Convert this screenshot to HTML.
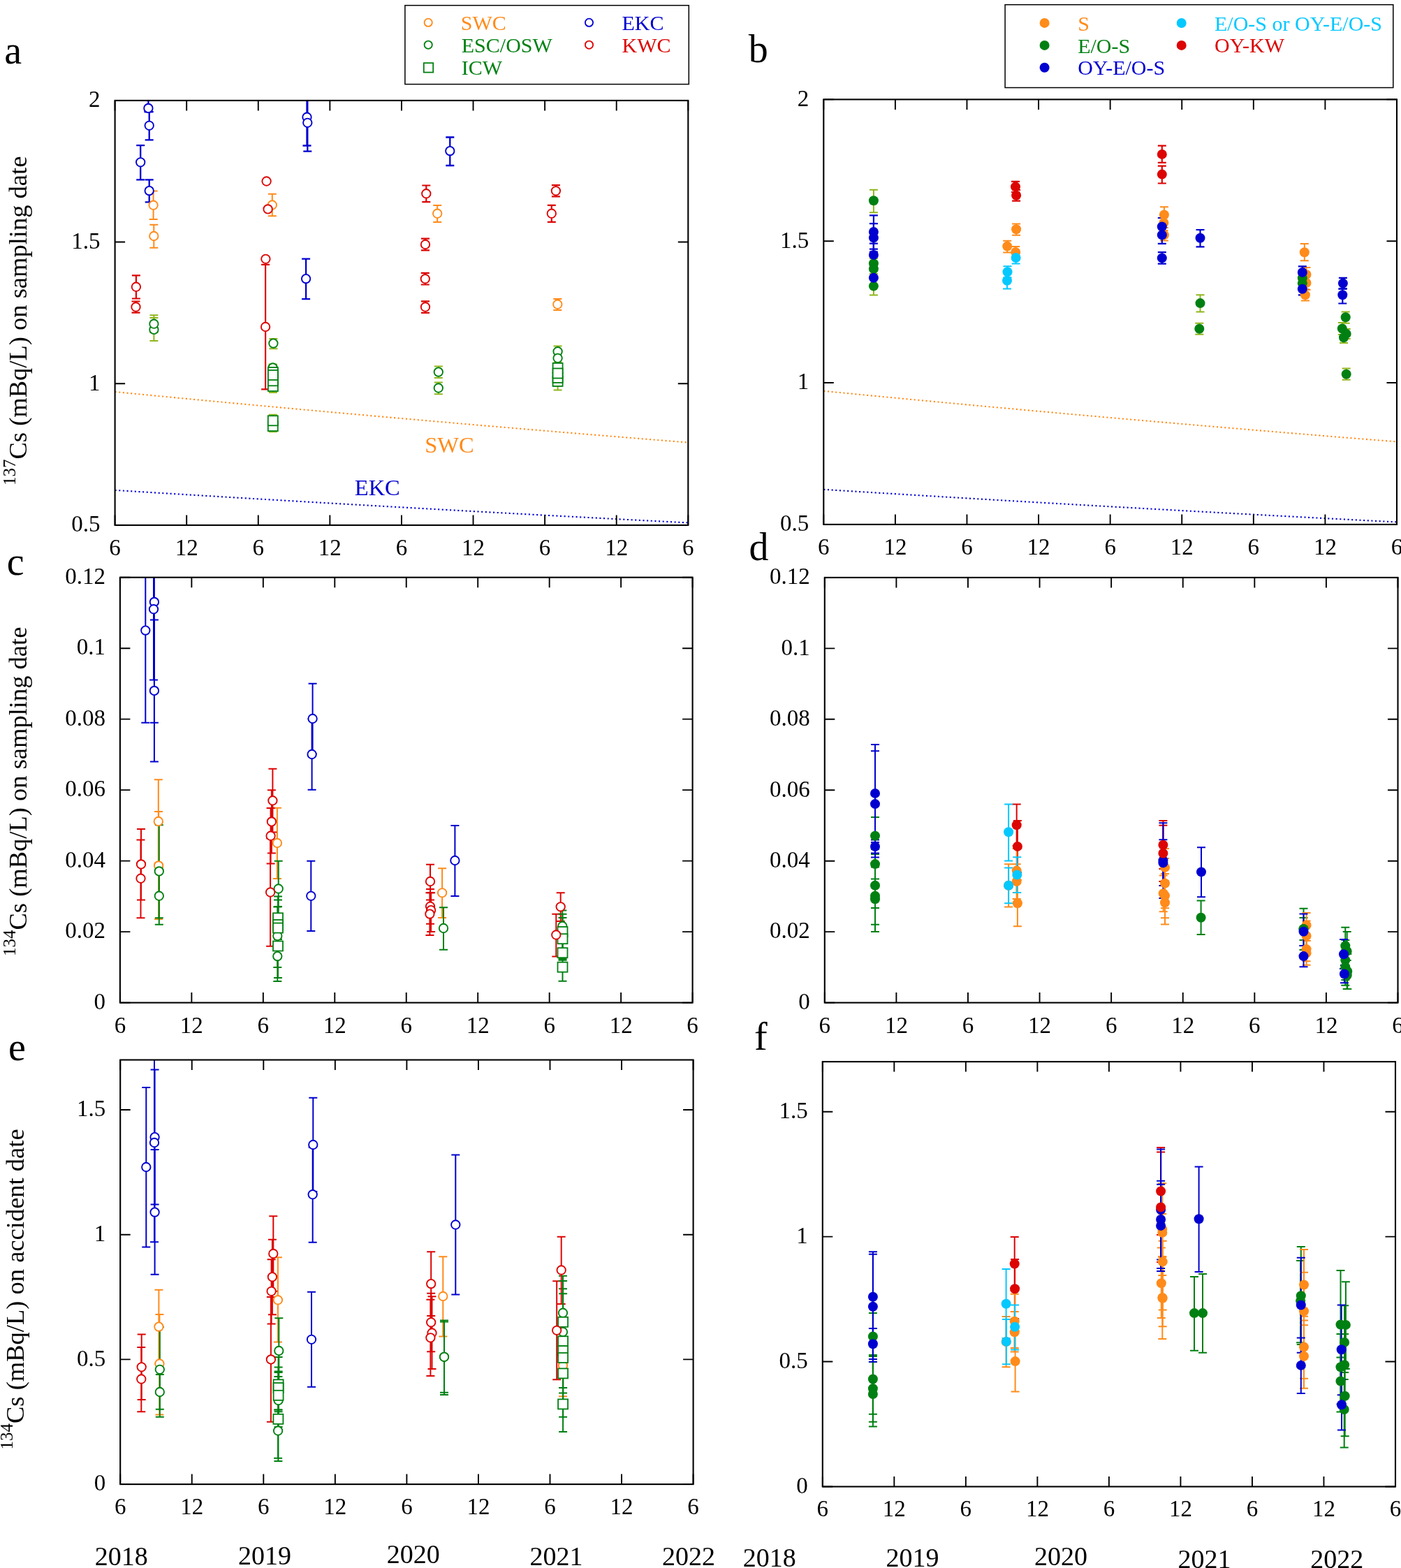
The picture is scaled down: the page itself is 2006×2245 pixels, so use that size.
<!DOCTYPE html>
<html><head><meta charset="utf-8"><title>Cs concentrations</title><style>html,body{margin:0;padding:0;background:#fff;}svg{display:block;}</style></head><body>
<svg xmlns="http://www.w3.org/2000/svg" width="2006" height="2245" viewBox="0 0 2006 2245" font-family="'Liberation Serif', 'Times New Roman', serif">
<rect width="2006" height="2245" fill="#fff"/>
<polyline points="164.6,560.99 185.12,562.99 205.63,564.98 226.15,566.96 246.67,568.93 267.19,570.89 287.7,572.84 308.22,574.78 328.74,576.71 349.26,578.63 369.77,580.54 390.29,582.44 410.81,584.33 431.33,586.21 451.84,588.08 472.36,589.94 492.88,591.79 513.4,593.64 533.91,595.47 554.43,597.3 574.95,599.11 595.47,600.92 615.99,602.71 636.5,604.5 657.02,606.28 677.54,608.05 698.05,609.81 718.57,611.56 739.09,613.31 759.61,615.04 780.12,616.77 800.64,618.48 821.16,620.19 841.68,621.89 862.19,623.58 882.71,625.26 903.23,626.93 923.75,628.6 944.26,630.26 964.78,631.9 985.3,633.54" fill="none" stroke="#ff8b1a" stroke-width="2.1" stroke-dasharray="2.1 3.55"/>
<polyline points="164.6,701.84 185.12,703.13 205.63,704.4 226.15,705.68 246.67,706.94 267.19,708.2 287.7,709.45 308.22,710.7 328.74,711.94 349.26,713.17 369.77,714.4 390.29,715.62 410.81,716.84 431.33,718.04 451.84,719.25 472.36,720.44 492.88,721.63 513.4,722.82 533.91,724 554.43,725.17 574.95,726.33 595.47,727.5 615.99,728.65 636.5,729.8 657.02,730.94 677.54,732.08 698.05,733.21 718.57,734.33 739.09,735.45 759.61,736.57 780.12,737.68 800.64,738.78 821.16,739.88 841.68,740.97 862.19,742.05 882.71,743.13 903.23,744.21 923.75,745.28 944.26,746.34 964.78,747.4 985.3,748.45" fill="none" stroke="#0000d0" stroke-width="2.1" stroke-dasharray="2.1 3.55"/>
<polyline points="1179.3,559.83 1199.82,561.83 1220.34,563.82 1240.85,565.81 1261.37,567.78 1281.89,569.74 1302.4,571.69 1322.92,573.63 1343.44,575.56 1363.96,577.48 1384.47,579.39 1404.99,581.3 1425.51,583.19 1446.03,585.07 1466.55,586.94 1487.06,588.81 1507.58,590.66 1528.1,592.51 1548.62,594.34 1569.13,596.17 1589.65,597.99 1610.17,599.79 1630.68,601.59 1651.2,603.38 1671.72,605.16 1692.24,606.93 1712.76,608.69 1733.27,610.45 1753.79,612.19 1774.31,613.93 1794.83,615.65 1815.34,617.37 1835.86,619.08 1856.38,620.78 1876.89,622.47 1897.41,624.16 1917.93,625.83 1938.45,627.5 1958.96,629.16 1979.48,630.8 2000,632.45" fill="none" stroke="#ff8b1a" stroke-width="2.1" stroke-dasharray="2.1 3.55"/>
<polyline points="1179.3,700.8 1199.82,702.09 1220.34,703.37 1240.85,704.64 1261.37,705.9 1281.89,707.16 1302.4,708.42 1322.92,709.67 1343.44,710.91 1363.96,712.14 1384.47,713.37 1404.99,714.59 1425.51,715.81 1446.03,717.02 1466.55,718.22 1487.06,719.42 1507.58,720.61 1528.1,721.79 1548.62,722.97 1569.13,724.15 1589.65,725.31 1610.17,726.48 1630.68,727.63 1651.2,728.78 1671.72,729.92 1692.24,731.06 1712.76,732.19 1733.27,733.32 1753.79,734.44 1774.31,735.56 1794.83,736.66 1815.34,737.77 1835.86,738.87 1856.38,739.96 1876.89,741.05 1897.41,742.13 1917.93,743.2 1938.45,744.27 1958.96,745.34 1979.48,746.4 2000,747.45" fill="none" stroke="#0000d0" stroke-width="2.1" stroke-dasharray="2.1 3.55"/>
<clipPath id="clipa"><rect x="164.6" y="143.9" width="820.7" height="608"/></clipPath>
<g clip-path="url(#clipa)">
<path d="M219.6 273.4V313.9M213.6 273.4H225.6M213.6 313.9H225.6" stroke="#ff8b1a" stroke-width="2.0" fill="none"/>
<path d="M220.3 321.7V354.7M214.3 321.7H226.3M214.3 354.7H226.3" stroke="#ff8b1a" stroke-width="2.0" fill="none"/>
<path d="M389.8 277.8V309.3M383.8 277.8H395.8M383.8 309.3H395.8" stroke="#ff8b1a" stroke-width="2.0" fill="none"/>
<path d="M626.2 294V318M620.2 294H632.2M620.2 318H632.2" stroke="#ff8b1a" stroke-width="2.0" fill="none"/>
<path d="M798.3 428V444M792.3 428H804.3M792.3 444H804.3" stroke="#ff8b1a" stroke-width="2.0" fill="none"/>
<path d="M220.4 454.9V488M214.4 454.9H226.4M214.4 488H226.4" stroke="#90b61c" stroke-width="2.0" fill="none"/>
<path d="M220.4 451.3V476M214.4 451.3H226.4M214.4 476H226.4" stroke="#90b61c" stroke-width="2.0" fill="none"/>
<path d="M391.4 485V499.2M385.4 485H397.4M385.4 499.2H397.4" stroke="#90b61c" stroke-width="2.0" fill="none"/>
<path d="M390.6 521.8V531M384.6 521.8H396.6M384.6 531H396.6" stroke="#90b61c" stroke-width="2.0" fill="none"/>
<path d="M627.8 524.5V540.9M621.8 524.5H633.8M621.8 540.9H633.8" stroke="#90b61c" stroke-width="2.0" fill="none"/>
<path d="M627.8 547.6V564.3M621.8 547.6H633.8M621.8 564.3H633.8" stroke="#90b61c" stroke-width="2.0" fill="none"/>
<path d="M798.6 495.4V511M792.6 495.4H804.6M792.6 511H804.6" stroke="#90b61c" stroke-width="2.0" fill="none"/>
<path d="M798.6 505V520M792.6 505H804.6M792.6 520H804.6" stroke="#90b61c" stroke-width="2.0" fill="none"/>
<path d="M212.4 120V160.2M206.4 120H218.4M206.4 160.2H218.4" stroke="#0000d0" stroke-width="2.3" fill="none"/>
<path d="M213.7 160.1V200.4M207.7 160.1H219.7M207.7 200.4H219.7" stroke="#0000d0" stroke-width="2.3" fill="none"/>
<path d="M201.2 208.1V257.4M195.2 208.1H207.2M195.2 257.4H207.2" stroke="#0000d0" stroke-width="2.3" fill="none"/>
<path d="M213.7 257.4V289.3M207.7 257.4H219.7M207.7 289.3H219.7" stroke="#0000d0" stroke-width="2.3" fill="none"/>
<path d="M438.1 370.7V428.1M432.1 370.7H444.1M432.1 428.1H444.1" stroke="#0000d0" stroke-width="2.3" fill="none"/>
<path d="M644.3 196.5V237M638.3 196.5H650.3M638.3 237H650.3" stroke="#0000d0" stroke-width="2.3" fill="none"/>
<path d="M439.5 120V208.5M433.5 120H445.5M433.5 208.5H445.5" stroke="#0000d0" stroke-width="2.3" fill="none"/>
<path d="M440.3 120V216.6M434.3 120H446.3M434.3 216.6H446.3" stroke="#0000d0" stroke-width="2.3" fill="none"/>
<path d="M194.9 394.4V427.5M188.9 394.4H200.9M188.9 427.5H200.9" stroke="#dc0504" stroke-width="2.2" fill="none"/>
<path d="M194.5 431.5V447.7M188.5 431.5H200.5M188.5 447.7H200.5" stroke="#dc0504" stroke-width="2.2" fill="none"/>
<path d="M380.1 378.8V557.4M374.1 378.8H386.1M374.1 557.4H386.1" stroke="#dc0504" stroke-width="2.2" fill="none"/>
<path d="M610.3 265.5V289.2M604.3 265.5H616.3M604.3 289.2H616.3" stroke="#dc0504" stroke-width="2.2" fill="none"/>
<path d="M609 341.6V358.3M603 341.6H615M603 358.3H615" stroke="#dc0504" stroke-width="2.2" fill="none"/>
<path d="M608.8 390.9V407.5M602.8 390.9H614.8M602.8 407.5H614.8" stroke="#dc0504" stroke-width="2.2" fill="none"/>
<path d="M609 431.4V447.9M603 431.4H615M603 447.9H615" stroke="#dc0504" stroke-width="2.2" fill="none"/>
<path d="M795.9 265.2V281.4M789.9 265.2H801.9M789.9 281.4H801.9" stroke="#dc0504" stroke-width="2.2" fill="none"/>
<path d="M789.8 293.9V317.8M783.8 293.9H795.8M783.8 317.8H795.8" stroke="#dc0504" stroke-width="2.2" fill="none"/>
<path d="M390.9 545V562.1M384.9 545H396.9M384.9 562.1H396.9" stroke="#90b61c" stroke-width="2.0" fill="none"/>
<path d="M390.9 537V553M384.9 537H396.9M384.9 553H396.9" stroke="#90b61c" stroke-width="2.0" fill="none"/>
<path d="M390.9 521.8V541M384.9 521.8H396.9M384.9 541H396.9" stroke="#90b61c" stroke-width="2.0" fill="none"/>
<path d="M390.9 529V545M384.9 529H396.9M384.9 545H396.9" stroke="#90b61c" stroke-width="2.0" fill="none"/>
<path d="M390.8 602V618.3M384.8 602H396.8M384.8 618.3H396.8" stroke="#90b61c" stroke-width="2.0" fill="none"/>
<path d="M390.8 593.7V610M384.8 593.7H396.8M384.8 610H396.8" stroke="#90b61c" stroke-width="2.0" fill="none"/>
<path d="M798.6 538V558.6M792.6 538H804.6M792.6 558.6H804.6" stroke="#90b61c" stroke-width="2.0" fill="none"/>
<path d="M798.6 533V549M792.6 533H804.6M792.6 549H804.6" stroke="#90b61c" stroke-width="2.0" fill="none"/>
<path d="M798.6 519V535M792.6 519H804.6M792.6 535H804.6" stroke="#90b61c" stroke-width="2.0" fill="none"/>
<path d="M798.6 526V543M792.6 526H804.6M792.6 543H804.6" stroke="#90b61c" stroke-width="2.0" fill="none"/>
<circle cx="219.6" cy="293.7" r="6.2" fill="#fff" stroke="#ff8b1a" stroke-width="1.9"/>
<circle cx="220.3" cy="338" r="6.2" fill="#fff" stroke="#ff8b1a" stroke-width="1.9"/>
<circle cx="389.8" cy="293.5" r="6.2" fill="#fff" stroke="#ff8b1a" stroke-width="1.9"/>
<circle cx="626.2" cy="305.7" r="6.2" fill="#fff" stroke="#ff8b1a" stroke-width="1.9"/>
<circle cx="798.3" cy="435.7" r="6.2" fill="#fff" stroke="#ff8b1a" stroke-width="1.9"/>
<circle cx="220.4" cy="471.9" r="6.2" fill="#fff" stroke="#008012" stroke-width="1.9"/>
<circle cx="220.4" cy="463.7" r="6.2" fill="#fff" stroke="#008012" stroke-width="1.9"/>
<circle cx="391.4" cy="491.6" r="6.2" fill="#fff" stroke="#008012" stroke-width="1.9"/>
<circle cx="390.6" cy="526.4" r="6.2" fill="#fff" stroke="#008012" stroke-width="1.9"/>
<circle cx="627.8" cy="532.6" r="6.2" fill="#fff" stroke="#008012" stroke-width="1.9"/>
<circle cx="627.8" cy="555.5" r="6.2" fill="#fff" stroke="#008012" stroke-width="1.9"/>
<circle cx="798.6" cy="503.2" r="6.2" fill="#fff" stroke="#008012" stroke-width="1.9"/>
<circle cx="798.6" cy="512.8" r="6.2" fill="#fff" stroke="#008012" stroke-width="1.9"/>
<circle cx="212.4" cy="154.9" r="6.2" fill="#fff" stroke="#0000d0" stroke-width="1.9"/>
<circle cx="213.7" cy="179.8" r="6.2" fill="#fff" stroke="#0000d0" stroke-width="1.9"/>
<circle cx="201.2" cy="232.3" r="6.2" fill="#fff" stroke="#0000d0" stroke-width="1.9"/>
<circle cx="213.7" cy="273.1" r="6.2" fill="#fff" stroke="#0000d0" stroke-width="1.9"/>
<circle cx="438.1" cy="399.1" r="6.2" fill="#fff" stroke="#0000d0" stroke-width="1.9"/>
<circle cx="644.3" cy="216.1" r="6.2" fill="#fff" stroke="#0000d0" stroke-width="1.9"/>
<circle cx="439.5" cy="167.7" r="6.2" fill="#fff" stroke="#0000d0" stroke-width="1.9"/>
<circle cx="440.3" cy="175.8" r="6.2" fill="#fff" stroke="#0000d0" stroke-width="1.9"/>
<rect x="383.9" y="546" width="14.0" height="14.0" fill="#fff" stroke="#008012" stroke-width="1.8"/>
<rect x="383.9" y="538.3" width="14.0" height="14.0" fill="#fff" stroke="#008012" stroke-width="1.8"/>
<rect x="383.9" y="526.1" width="14.0" height="14.0" fill="#fff" stroke="#008012" stroke-width="1.8"/>
<rect x="383.9" y="530" width="14.0" height="14.0" fill="#fff" stroke="#008012" stroke-width="1.8"/>
<rect x="383.8" y="603.1" width="14.0" height="14.0" fill="#fff" stroke="#008012" stroke-width="1.8"/>
<rect x="383.8" y="595.3" width="14.0" height="14.0" fill="#fff" stroke="#008012" stroke-width="1.8"/>
<rect x="791.6" y="539" width="14.0" height="14.0" fill="#fff" stroke="#008012" stroke-width="1.8"/>
<rect x="791.6" y="533.9" width="14.0" height="14.0" fill="#fff" stroke="#008012" stroke-width="1.8"/>
<rect x="791.6" y="519.9" width="14.0" height="14.0" fill="#fff" stroke="#008012" stroke-width="1.8"/>
<rect x="791.6" y="527.5" width="14.0" height="14.0" fill="#fff" stroke="#008012" stroke-width="1.8"/>
<circle cx="194.9" cy="410.7" r="6.2" fill="#fff" stroke="#dc0504" stroke-width="1.9"/>
<circle cx="194.5" cy="439.5" r="6.2" fill="#fff" stroke="#dc0504" stroke-width="1.9"/>
<circle cx="381.6" cy="259.5" r="6.2" fill="#fff" stroke="#dc0504" stroke-width="1.9"/>
<circle cx="383.6" cy="299.4" r="6.2" fill="#fff" stroke="#dc0504" stroke-width="1.9"/>
<circle cx="380.4" cy="370.8" r="6.2" fill="#fff" stroke="#dc0504" stroke-width="1.9"/>
<circle cx="380.1" cy="468" r="6.2" fill="#fff" stroke="#dc0504" stroke-width="1.9"/>
<circle cx="610.3" cy="277.2" r="6.2" fill="#fff" stroke="#dc0504" stroke-width="1.9"/>
<circle cx="609" cy="350" r="6.2" fill="#fff" stroke="#dc0504" stroke-width="1.9"/>
<circle cx="608.8" cy="399.2" r="6.2" fill="#fff" stroke="#dc0504" stroke-width="1.9"/>
<circle cx="609" cy="439.5" r="6.2" fill="#fff" stroke="#dc0504" stroke-width="1.9"/>
<circle cx="795.9" cy="273.3" r="6.2" fill="#fff" stroke="#dc0504" stroke-width="1.9"/>
<circle cx="789.8" cy="305.7" r="6.2" fill="#fff" stroke="#dc0504" stroke-width="1.9"/>
</g>
<clipPath id="clipb"><rect x="1179.3" y="142.4" width="820.7" height="608.5"/></clipPath>
<g clip-path="url(#clipb)">
<path d="M1250.9 271.8V304.2M1244.9 271.8H1256.9M1244.9 304.2H1256.9" stroke="#90b61c" stroke-width="2.0" fill="none"/>
<path d="M1250.9 362V392M1244.9 362H1256.9M1244.9 392H1256.9" stroke="#90b61c" stroke-width="2.0" fill="none"/>
<path d="M1250.9 370V400M1244.9 370H1256.9M1244.9 400H1256.9" stroke="#90b61c" stroke-width="2.0" fill="none"/>
<path d="M1250.9 397V422.4M1244.9 397H1256.9M1244.9 422.4H1256.9" stroke="#90b61c" stroke-width="2.0" fill="none"/>
<path d="M1718.5 422.3V446.4M1712.5 422.3H1724.5M1712.5 446.4H1724.5" stroke="#90b61c" stroke-width="2.0" fill="none"/>
<path d="M1717.3 462.8V478.8M1711.3 462.8H1723.3M1711.3 478.8H1723.3" stroke="#90b61c" stroke-width="2.0" fill="none"/>
<path d="M1864.8 388V408M1858.8 388H1870.8M1858.8 408H1870.8" stroke="#90b61c" stroke-width="2.0" fill="none"/>
<path d="M1864.8 396V415M1858.8 396H1870.8M1858.8 415H1870.8" stroke="#90b61c" stroke-width="2.0" fill="none"/>
<path d="M1926.7 446.4V462.8M1920.7 446.4H1932.7M1920.7 462.8H1932.7" stroke="#90b61c" stroke-width="2.0" fill="none"/>
<path d="M1921.8 462V479M1915.8 462H1927.8M1915.8 479H1927.8" stroke="#90b61c" stroke-width="2.0" fill="none"/>
<path d="M1927.7 470.9V485M1921.7 470.9H1933.7M1921.7 485H1933.7" stroke="#90b61c" stroke-width="2.0" fill="none"/>
<path d="M1924 476V490.9M1918 476H1930M1918 490.9H1930" stroke="#90b61c" stroke-width="2.0" fill="none"/>
<path d="M1927.7 527.6V543.8M1921.7 527.6H1933.7M1921.7 543.8H1933.7" stroke="#90b61c" stroke-width="2.0" fill="none"/>
<path d="M1454 259.9V275M1448 259.9H1460M1448 275H1460" stroke="#dc0504" stroke-width="2.2" fill="none"/>
<path d="M1455.1 272V287.7M1449.1 272H1461.1M1449.1 287.7H1461.1" stroke="#dc0504" stroke-width="2.2" fill="none"/>
<path d="M1663.8 208.6V232.8M1657.8 208.6H1669.8M1657.8 232.8H1669.8" stroke="#dc0504" stroke-width="2.2" fill="none"/>
<path d="M1663.8 237.6V262.5M1657.8 237.6H1669.8M1657.8 262.5H1669.8" stroke="#dc0504" stroke-width="2.2" fill="none"/>
<path d="M1455.1 320.4V336.7M1449.1 320.4H1461.1M1449.1 336.7H1461.1" stroke="#ff8b1a" stroke-width="2.0" fill="none"/>
<path d="M1442.2 344.7V361.5M1436.2 344.7H1448.2M1436.2 361.5H1448.2" stroke="#ff8b1a" stroke-width="2.0" fill="none"/>
<path d="M1454.2 353.1V369M1448.2 353.1H1460.2M1448.2 369H1460.2" stroke="#ff8b1a" stroke-width="2.0" fill="none"/>
<path d="M1666.9 296.2V318M1660.9 296.2H1672.9M1660.9 318H1672.9" stroke="#ff8b1a" stroke-width="2.0" fill="none"/>
<path d="M1666.4 308V330M1660.4 308H1672.4M1660.4 330H1672.4" stroke="#ff8b1a" stroke-width="2.0" fill="none"/>
<path d="M1666.9 326V344.6M1660.9 326H1672.9M1660.9 344.6H1672.9" stroke="#ff8b1a" stroke-width="2.0" fill="none"/>
<path d="M1867.8 348.9V373.2M1861.8 348.9H1873.8M1861.8 373.2H1873.8" stroke="#ff8b1a" stroke-width="2.0" fill="none"/>
<path d="M1870.5 383V403M1864.5 383H1876.5M1864.5 403H1876.5" stroke="#ff8b1a" stroke-width="2.0" fill="none"/>
<path d="M1870.5 395V415M1864.5 395H1876.5M1864.5 415H1876.5" stroke="#ff8b1a" stroke-width="2.0" fill="none"/>
<path d="M1868.9 414V430.4M1862.9 414H1874.9M1862.9 430.4H1874.9" stroke="#ff8b1a" stroke-width="2.0" fill="none"/>
<path d="M1454.6 360.6V377.4M1448.6 360.6H1460.6M1448.6 377.4H1460.6" stroke="#05c8ff" stroke-width="2.0" fill="none"/>
<path d="M1442.5 381.3V397.3M1436.5 381.3H1448.5M1436.5 397.3H1448.5" stroke="#05c8ff" stroke-width="2.0" fill="none"/>
<path d="M1442 389.8V413.6M1436 389.8H1448M1436 413.6H1448" stroke="#05c8ff" stroke-width="2.0" fill="none"/>
<path d="M1250.9 308.4V356.6M1244.9 308.4H1256.9M1244.9 356.6H1256.9" stroke="#0000d0" stroke-width="2.2" fill="none"/>
<path d="M1250.9 320.2V360.6M1244.9 320.2H1256.9M1244.9 360.6H1256.9" stroke="#0000d0" stroke-width="2.2" fill="none"/>
<path d="M1250.9 348.7V381.1M1244.9 348.7H1256.9M1244.9 381.1H1256.9" stroke="#0000d0" stroke-width="2.2" fill="none"/>
<path d="M1250.9 385V410.6M1244.9 385H1256.9M1244.9 410.6H1256.9" stroke="#0000d0" stroke-width="2.2" fill="none"/>
<path d="M1663.8 312V337M1657.8 312H1669.8M1657.8 337H1669.8" stroke="#0000d0" stroke-width="2.2" fill="none"/>
<path d="M1663.8 324V348.8M1657.8 324H1669.8M1657.8 348.8H1669.8" stroke="#0000d0" stroke-width="2.2" fill="none"/>
<path d="M1663.8 361.1V377.6M1657.8 361.1H1669.8M1657.8 377.6H1669.8" stroke="#0000d0" stroke-width="2.2" fill="none"/>
<path d="M1718.5 329V353.4M1712.5 329H1724.5M1712.5 353.4H1724.5" stroke="#0000d0" stroke-width="2.2" fill="none"/>
<path d="M1864.8 381.3V398.5M1858.8 381.3H1870.8M1858.8 398.5H1870.8" stroke="#0000d0" stroke-width="2.2" fill="none"/>
<path d="M1864.8 405V422.3M1858.8 405H1870.8M1858.8 422.3H1870.8" stroke="#0000d0" stroke-width="2.2" fill="none"/>
<path d="M1922.9 397.8V413.4M1916.9 397.8H1928.9M1916.9 413.4H1928.9" stroke="#0000d0" stroke-width="2.2" fill="none"/>
<path d="M1922.3 413.7V434.5M1916.3 413.7H1928.3M1916.3 434.5H1928.3" stroke="#0000d0" stroke-width="2.2" fill="none"/>
<circle cx="1455.1" cy="328.3" r="7.0" fill="#ff8b1a"/>
<circle cx="1442.2" cy="352.6" r="7.0" fill="#ff8b1a"/>
<circle cx="1454.2" cy="361" r="7.0" fill="#ff8b1a"/>
<circle cx="1666.9" cy="307.5" r="7.0" fill="#ff8b1a"/>
<circle cx="1666.4" cy="318.9" r="7.0" fill="#ff8b1a"/>
<circle cx="1666.9" cy="336.4" r="7.0" fill="#ff8b1a"/>
<circle cx="1867.8" cy="361.3" r="7.0" fill="#ff8b1a"/>
<circle cx="1870.5" cy="393" r="7.0" fill="#ff8b1a"/>
<circle cx="1870.5" cy="405" r="7.0" fill="#ff8b1a"/>
<circle cx="1868.9" cy="422.3" r="7.0" fill="#ff8b1a"/>
<circle cx="1250.9" cy="287.3" r="7.0" fill="#008012"/>
<circle cx="1250.9" cy="377.2" r="7.0" fill="#008012"/>
<circle cx="1250.9" cy="385.1" r="7.0" fill="#008012"/>
<circle cx="1250.9" cy="409.6" r="7.0" fill="#008012"/>
<circle cx="1718.5" cy="434.1" r="7.0" fill="#008012"/>
<circle cx="1717.3" cy="470.7" r="7.0" fill="#008012"/>
<circle cx="1864.8" cy="398" r="7.0" fill="#008012"/>
<circle cx="1864.8" cy="405.6" r="7.0" fill="#008012"/>
<circle cx="1926.7" cy="454.2" r="7.0" fill="#008012"/>
<circle cx="1921.8" cy="470.4" r="7.0" fill="#008012"/>
<circle cx="1927.7" cy="477.9" r="7.0" fill="#008012"/>
<circle cx="1924" cy="483.3" r="7.0" fill="#008012"/>
<circle cx="1927.7" cy="535.7" r="7.0" fill="#008012"/>
<circle cx="1454.6" cy="369" r="7.0" fill="#05c8ff"/>
<circle cx="1442.5" cy="389.3" r="7.0" fill="#05c8ff"/>
<circle cx="1442" cy="401.7" r="7.0" fill="#05c8ff"/>
<circle cx="1250.9" cy="332" r="7.0" fill="#0000d0"/>
<circle cx="1250.9" cy="340.4" r="7.0" fill="#0000d0"/>
<circle cx="1250.9" cy="364.9" r="7.0" fill="#0000d0"/>
<circle cx="1250.9" cy="397.8" r="7.0" fill="#0000d0"/>
<circle cx="1663.8" cy="324.5" r="7.0" fill="#0000d0"/>
<circle cx="1663.8" cy="336.4" r="7.0" fill="#0000d0"/>
<circle cx="1663.8" cy="369.4" r="7.0" fill="#0000d0"/>
<circle cx="1718.5" cy="340.7" r="7.0" fill="#0000d0"/>
<circle cx="1864.8" cy="389.9" r="7.0" fill="#0000d0"/>
<circle cx="1864.8" cy="413.7" r="7.0" fill="#0000d0"/>
<circle cx="1922.9" cy="405.6" r="7.0" fill="#0000d0"/>
<circle cx="1922.3" cy="422.3" r="7.0" fill="#0000d0"/>
<circle cx="1454" cy="267.4" r="7.0" fill="#dc0504"/>
<circle cx="1455.1" cy="279.8" r="7.0" fill="#dc0504"/>
<circle cx="1663.8" cy="220.9" r="7.0" fill="#dc0504"/>
<circle cx="1663.8" cy="249.6" r="7.0" fill="#dc0504"/>
</g>
<clipPath id="clipc"><rect x="171.9" y="826.7" width="819.7" height="608.9"/></clipPath>
<g clip-path="url(#clipc)">
<path d="M226.8 1116.3V1235.7M220.8 1116.3H232.8M220.8 1235.7H232.8" stroke="#ff8b1a" stroke-width="2.0" fill="none"/>
<path d="M227.1 1161.9V1316M221.1 1161.9H233.1M221.1 1316H233.1" stroke="#ff8b1a" stroke-width="2.0" fill="none"/>
<path d="M396.9 1156.8V1258M390.9 1156.8H402.9M390.9 1258H402.9" stroke="#ff8b1a" stroke-width="2.0" fill="none"/>
<path d="M633.1 1243.3V1314M627.1 1243.3H639.1M627.1 1314H639.1" stroke="#ff8b1a" stroke-width="2.0" fill="none"/>
<path d="M227.8 1181.3V1314.3M221.8 1181.3H233.8M221.8 1314.3H233.8" stroke="#008012" stroke-width="2.0" fill="none"/>
<path d="M227.8 1241.7V1323.7M221.8 1241.7H233.8M221.8 1323.7H233.8" stroke="#008012" stroke-width="2.0" fill="none"/>
<path d="M398.7 1232.8V1312M392.7 1232.8H404.7M392.7 1312H404.7" stroke="#008012" stroke-width="2.0" fill="none"/>
<path d="M397.3 1298.6V1385M391.3 1298.6H403.3M391.3 1385H403.3" stroke="#008012" stroke-width="2.0" fill="none"/>
<path d="M397.3 1333V1404.9M391.3 1333H403.3M391.3 1404.9H403.3" stroke="#008012" stroke-width="2.0" fill="none"/>
<path d="M635 1299.2V1359.7M629 1299.2H641M629 1359.7H641" stroke="#008012" stroke-width="2.0" fill="none"/>
<path d="M805.3 1303.4V1348M799.3 1303.4H811.3M799.3 1348H811.3" stroke="#008012" stroke-width="2.0" fill="none"/>
<path d="M208.3 760V1034.8M202.3 760H214.3M202.3 1034.8H214.3" stroke="#0000d0" stroke-width="2.0" fill="none"/>
<path d="M220.9 760V1034.8M214.9 760H226.9M214.9 1034.8H226.9" stroke="#0000d0" stroke-width="2.0" fill="none"/>
<path d="M220 760V973.6M214 760H226M214 973.6H226" stroke="#0000d0" stroke-width="2.0" fill="none"/>
<path d="M220.9 887.5V1090.6M214.9 887.5H226.9M214.9 1090.6H226.9" stroke="#0000d0" stroke-width="2.0" fill="none"/>
<path d="M447.6 978.7V1079.3M441.6 978.7H453.6M441.6 1079.3H453.6" stroke="#0000d0" stroke-width="2.0" fill="none"/>
<path d="M446.6 1029.3V1130.7M440.6 1029.3H452.6M440.6 1130.7H452.6" stroke="#0000d0" stroke-width="2.0" fill="none"/>
<path d="M445.3 1232.8V1333.1M439.3 1232.8H451.3M439.3 1333.1H451.3" stroke="#0000d0" stroke-width="2.0" fill="none"/>
<path d="M651.4 1181.9V1283.1M645.4 1181.9H657.4M645.4 1283.1H657.4" stroke="#0000d0" stroke-width="2.0" fill="none"/>
<path d="M202 1187V1288.5M196 1187H208M196 1288.5H208" stroke="#dc0504" stroke-width="2.0" fill="none"/>
<path d="M201.5 1202.5V1314.3M195.5 1202.5H207.5M195.5 1314.3H207.5" stroke="#dc0504" stroke-width="2.0" fill="none"/>
<path d="M390.4 1100.8V1191.6M384.4 1100.8H396.4M384.4 1191.6H396.4" stroke="#dc0504" stroke-width="2.0" fill="none"/>
<path d="M388.9 1131.2V1221.6M382.9 1131.2H394.9M382.9 1221.6H394.9" stroke="#dc0504" stroke-width="2.0" fill="none"/>
<path d="M387.6 1157V1236.4M381.6 1157H393.6M381.6 1236.4H393.6" stroke="#dc0504" stroke-width="2.0" fill="none"/>
<path d="M387.1 1200.3V1354.7M381.1 1200.3H393.1M381.1 1354.7H393.1" stroke="#dc0504" stroke-width="2.0" fill="none"/>
<path d="M616 1237.7V1288.5M610 1237.7H622M610 1288.5H622" stroke="#dc0504" stroke-width="2.0" fill="none"/>
<path d="M616 1272.9V1322.7M610 1272.9H622M610 1322.7H622" stroke="#dc0504" stroke-width="2.0" fill="none"/>
<path d="M617.1 1278.2V1334M611.1 1278.2H623.1M611.1 1334H623.1" stroke="#dc0504" stroke-width="2.0" fill="none"/>
<path d="M615.4 1278.2V1339M609.4 1278.2H621.4M609.4 1339H621.4" stroke="#dc0504" stroke-width="2.0" fill="none"/>
<path d="M802.7 1278.2V1319.1M796.7 1278.2H808.7M796.7 1319.1H808.7" stroke="#dc0504" stroke-width="2.0" fill="none"/>
<path d="M796.3 1308.7V1369.4M790.3 1308.7H802.3M790.3 1369.4H802.3" stroke="#dc0504" stroke-width="2.0" fill="none"/>
<path d="M398 1283.4V1345M392 1283.4H404M392 1345H404" stroke="#008012" stroke-width="2.0" fill="none"/>
<path d="M398 1288.4V1360M392 1288.4H404M392 1360H404" stroke="#008012" stroke-width="2.0" fill="none"/>
<path d="M398 1298V1359M392 1298H404M392 1359H404" stroke="#008012" stroke-width="2.0" fill="none"/>
<path d="M398 1320V1400M392 1320H404M392 1400H404" stroke="#008012" stroke-width="2.0" fill="none"/>
<path d="M805.5 1308.7V1360M799.5 1308.7H811.5M799.5 1360H811.5" stroke="#008012" stroke-width="2.0" fill="none"/>
<path d="M805.5 1314V1373M799.5 1314H811.5M799.5 1373H811.5" stroke="#008012" stroke-width="2.0" fill="none"/>
<path d="M805.5 1340V1374.7M799.5 1340H811.5M799.5 1374.7H811.5" stroke="#008012" stroke-width="2.0" fill="none"/>
<path d="M805.5 1360V1404.8M799.5 1360H811.5M799.5 1404.8H811.5" stroke="#008012" stroke-width="2.0" fill="none"/>
<circle cx="226.8" cy="1176" r="6.2" fill="#fff" stroke="#ff8b1a" stroke-width="1.9"/>
<circle cx="227.1" cy="1239.4" r="6.2" fill="#fff" stroke="#ff8b1a" stroke-width="1.9"/>
<circle cx="396.9" cy="1207" r="6.2" fill="#fff" stroke="#ff8b1a" stroke-width="1.9"/>
<circle cx="633.1" cy="1278.3" r="6.2" fill="#fff" stroke="#ff8b1a" stroke-width="1.9"/>
<circle cx="227.8" cy="1247.4" r="6.2" fill="#fff" stroke="#008012" stroke-width="1.9"/>
<circle cx="227.8" cy="1282.7" r="6.2" fill="#fff" stroke="#008012" stroke-width="1.9"/>
<circle cx="398.7" cy="1272.5" r="6.2" fill="#fff" stroke="#008012" stroke-width="1.9"/>
<circle cx="397.3" cy="1340" r="6.2" fill="#fff" stroke="#008012" stroke-width="1.9"/>
<circle cx="397.3" cy="1369.1" r="6.2" fill="#fff" stroke="#008012" stroke-width="1.9"/>
<circle cx="635" cy="1329" r="6.2" fill="#fff" stroke="#008012" stroke-width="1.9"/>
<circle cx="805.3" cy="1326" r="6.2" fill="#fff" stroke="#008012" stroke-width="1.9"/>
<circle cx="208.3" cy="902.6" r="6.2" fill="#fff" stroke="#0000d0" stroke-width="1.9"/>
<circle cx="220.9" cy="861.9" r="6.2" fill="#fff" stroke="#0000d0" stroke-width="1.9"/>
<circle cx="220" cy="872.2" r="6.2" fill="#fff" stroke="#0000d0" stroke-width="1.9"/>
<circle cx="220.9" cy="988.9" r="6.2" fill="#fff" stroke="#0000d0" stroke-width="1.9"/>
<circle cx="447.6" cy="1029" r="6.2" fill="#fff" stroke="#0000d0" stroke-width="1.9"/>
<circle cx="446.6" cy="1080" r="6.2" fill="#fff" stroke="#0000d0" stroke-width="1.9"/>
<circle cx="445.3" cy="1282.8" r="6.2" fill="#fff" stroke="#0000d0" stroke-width="1.9"/>
<circle cx="651.4" cy="1232" r="6.2" fill="#fff" stroke="#0000d0" stroke-width="1.9"/>
<rect x="391" y="1307.3" width="14.0" height="14.0" fill="#fff" stroke="#008012" stroke-width="1.8"/>
<rect x="391" y="1317" width="14.0" height="14.0" fill="#fff" stroke="#008012" stroke-width="1.8"/>
<rect x="391" y="1321.6" width="14.0" height="14.0" fill="#fff" stroke="#008012" stroke-width="1.8"/>
<rect x="391" y="1347.5" width="14.0" height="14.0" fill="#fff" stroke="#008012" stroke-width="1.8"/>
<rect x="798.5" y="1327" width="14.0" height="14.0" fill="#fff" stroke="#008012" stroke-width="1.8"/>
<rect x="798.5" y="1337.2" width="14.0" height="14.0" fill="#fff" stroke="#008012" stroke-width="1.8"/>
<rect x="798.5" y="1357.2" width="14.0" height="14.0" fill="#fff" stroke="#008012" stroke-width="1.8"/>
<rect x="798.5" y="1377.7" width="14.0" height="14.0" fill="#fff" stroke="#008012" stroke-width="1.8"/>
<circle cx="202" cy="1237.4" r="6.2" fill="#fff" stroke="#dc0504" stroke-width="1.9"/>
<circle cx="201.5" cy="1257.7" r="6.2" fill="#fff" stroke="#dc0504" stroke-width="1.9"/>
<circle cx="390.4" cy="1146.2" r="6.2" fill="#fff" stroke="#dc0504" stroke-width="1.9"/>
<circle cx="388.9" cy="1176.4" r="6.2" fill="#fff" stroke="#dc0504" stroke-width="1.9"/>
<circle cx="387.6" cy="1196.7" r="6.2" fill="#fff" stroke="#dc0504" stroke-width="1.9"/>
<circle cx="387.1" cy="1277.5" r="6.2" fill="#fff" stroke="#dc0504" stroke-width="1.9"/>
<circle cx="616" cy="1262" r="6.2" fill="#fff" stroke="#dc0504" stroke-width="1.9"/>
<circle cx="616" cy="1297.8" r="6.2" fill="#fff" stroke="#dc0504" stroke-width="1.9"/>
<circle cx="617.1" cy="1303.1" r="6.2" fill="#fff" stroke="#dc0504" stroke-width="1.9"/>
<circle cx="615.4" cy="1308.6" r="6.2" fill="#fff" stroke="#dc0504" stroke-width="1.9"/>
<circle cx="802.7" cy="1298.3" r="6.2" fill="#fff" stroke="#dc0504" stroke-width="1.9"/>
<circle cx="796.3" cy="1338.5" r="6.2" fill="#fff" stroke="#dc0504" stroke-width="1.9"/>
</g>
<clipPath id="clipd"><rect x="1180.8" y="826.9" width="820.7" height="608.7"/></clipPath>
<g clip-path="url(#clipd)">
<path d="M1253 1170V1223M1247 1170H1259M1247 1223H1259" stroke="#008012" stroke-width="2.0" fill="none"/>
<path d="M1253 1216V1258.4M1247 1216H1259M1247 1258.4H1259" stroke="#008012" stroke-width="2.0" fill="none"/>
<path d="M1253 1235V1300M1247 1235H1259M1247 1300H1259" stroke="#008012" stroke-width="2.0" fill="none"/>
<path d="M1253 1241.6V1323.8M1247 1241.6H1259M1247 1323.8H1259" stroke="#008012" stroke-width="2.0" fill="none"/>
<path d="M1253 1240.6V1334M1247 1240.6H1259M1247 1334H1259" stroke="#008012" stroke-width="2.0" fill="none"/>
<path d="M1719.6 1289.5V1338M1713.6 1289.5H1725.6M1713.6 1338H1725.6" stroke="#008012" stroke-width="2.0" fill="none"/>
<path d="M1866.5 1300.7V1360M1860.5 1300.7H1872.5M1860.5 1360H1872.5" stroke="#008012" stroke-width="2.0" fill="none"/>
<path d="M1866.5 1314.1V1346M1860.5 1314.1H1872.5M1860.5 1346H1872.5" stroke="#008012" stroke-width="2.0" fill="none"/>
<path d="M1926.3 1327.8V1382.5M1920.3 1327.8H1932.3M1920.3 1382.5H1932.3" stroke="#008012" stroke-width="2.0" fill="none"/>
<path d="M1928.7 1334V1390M1922.7 1334H1934.7M1922.7 1390H1934.7" stroke="#008012" stroke-width="2.0" fill="none"/>
<path d="M1926.3 1345.9V1403.1M1920.3 1345.9H1932.3M1920.3 1403.1H1932.3" stroke="#008012" stroke-width="2.0" fill="none"/>
<path d="M1926.3 1360V1410.7M1920.3 1360H1932.3M1920.3 1410.7H1932.3" stroke="#008012" stroke-width="2.0" fill="none"/>
<path d="M1929.3 1366V1416.1M1923.3 1366H1935.3M1923.3 1416.1H1935.3" stroke="#008012" stroke-width="2.0" fill="none"/>
<path d="M1928.7 1375V1416M1922.7 1375H1934.7M1922.7 1416H1934.7" stroke="#008012" stroke-width="2.0" fill="none"/>
<path d="M1455.7 1151.6V1211M1449.7 1151.6H1461.7M1449.7 1211H1461.7" stroke="#dc0504" stroke-width="2.0" fill="none"/>
<path d="M1456.9 1175V1249M1450.9 1175H1462.9M1450.9 1249H1462.9" stroke="#dc0504" stroke-width="2.0" fill="none"/>
<path d="M1665.4 1175V1244M1659.4 1175H1671.4M1659.4 1244H1671.4" stroke="#dc0504" stroke-width="2.0" fill="none"/>
<path d="M1665.4 1181.7V1262M1659.4 1181.7H1671.4M1659.4 1262H1671.4" stroke="#dc0504" stroke-width="2.0" fill="none"/>
<path d="M1444.1 1237.2V1298.5M1438.1 1237.2H1450.1M1438.1 1298.5H1450.1" stroke="#ff8b1a" stroke-width="2.0" fill="none"/>
<path d="M1455.7 1215V1278M1449.7 1215H1461.7M1449.7 1278H1461.7" stroke="#ff8b1a" stroke-width="2.0" fill="none"/>
<path d="M1455.7 1237.2V1287M1449.7 1237.2H1461.7M1449.7 1287H1461.7" stroke="#ff8b1a" stroke-width="2.0" fill="none"/>
<path d="M1456.9 1260V1326.2M1450.9 1260H1462.9M1450.9 1326.2H1462.9" stroke="#ff8b1a" stroke-width="2.0" fill="none"/>
<path d="M1668 1215V1268M1662 1215H1674M1662 1268H1674" stroke="#ff8b1a" stroke-width="2.0" fill="none"/>
<path d="M1668 1229V1300.2M1662 1229H1674M1662 1300.2H1674" stroke="#ff8b1a" stroke-width="2.0" fill="none"/>
<path d="M1665.7 1253.5V1305.3M1659.7 1253.5H1671.7M1659.7 1305.3H1671.7" stroke="#ff8b1a" stroke-width="2.0" fill="none"/>
<path d="M1668 1251V1314.2M1662 1251H1674M1662 1314.2H1674" stroke="#ff8b1a" stroke-width="2.0" fill="none"/>
<path d="M1668 1261V1323.5M1662 1261H1674M1662 1323.5H1674" stroke="#ff8b1a" stroke-width="2.0" fill="none"/>
<path d="M1870.6 1306.9V1347.1M1864.6 1306.9H1876.6M1864.6 1347.1H1876.6" stroke="#ff8b1a" stroke-width="2.0" fill="none"/>
<path d="M1870.6 1318.6V1362M1864.6 1318.6H1876.6M1864.6 1362H1876.6" stroke="#ff8b1a" stroke-width="2.0" fill="none"/>
<path d="M1870.6 1340V1376.3M1864.6 1340H1876.6M1864.6 1376.3H1876.6" stroke="#ff8b1a" stroke-width="2.0" fill="none"/>
<path d="M1870.6 1347V1381.8M1864.6 1347H1876.6M1864.6 1381.8H1876.6" stroke="#ff8b1a" stroke-width="2.0" fill="none"/>
<path d="M1444.1 1151.6V1232.5M1438.1 1151.6H1450.1M1438.1 1232.5H1450.1" stroke="#05c8ff" stroke-width="2.0" fill="none"/>
<path d="M1444.1 1242.5V1293.2M1438.1 1242.5H1450.1M1438.1 1293.2H1450.1" stroke="#05c8ff" stroke-width="2.0" fill="none"/>
<path d="M1456.3 1227.2V1277.9M1450.3 1227.2H1462.3M1450.3 1277.9H1462.3" stroke="#05c8ff" stroke-width="2.0" fill="none"/>
<path d="M1253 1065.9V1205.9M1247 1065.9H1259M1247 1205.9H1259" stroke="#0000d0" stroke-width="2.0" fill="none"/>
<path d="M1253 1075.3V1227.5M1247 1075.3H1259M1247 1227.5H1259" stroke="#0000d0" stroke-width="2.0" fill="none"/>
<path d="M1253 1202.5V1221.5M1247 1202.5H1259M1247 1221.5H1259" stroke="#0000d0" stroke-width="2.0" fill="none"/>
<path d="M1665.4 1178.3V1286M1659.4 1178.3H1671.4M1659.4 1286H1671.4" stroke="#0000d0" stroke-width="2.0" fill="none"/>
<path d="M1665.4 1202.2V1268M1659.4 1202.2H1671.4M1659.4 1268H1671.4" stroke="#0000d0" stroke-width="2.0" fill="none"/>
<path d="M1720 1213.2V1284.3M1714 1213.2H1726M1714 1284.3H1726" stroke="#0000d0" stroke-width="2.0" fill="none"/>
<path d="M1866.5 1308.6V1354M1860.5 1308.6H1872.5M1860.5 1354H1872.5" stroke="#0000d0" stroke-width="2.0" fill="none"/>
<path d="M1866.5 1354V1384.2M1860.5 1354H1872.5M1860.5 1384.2H1872.5" stroke="#0000d0" stroke-width="2.0" fill="none"/>
<path d="M1924 1345V1387M1918 1345H1930M1918 1387H1930" stroke="#0000d0" stroke-width="2.0" fill="none"/>
<path d="M1924.9 1382V1407.2M1918.9 1382H1930.9M1918.9 1407.2H1930.9" stroke="#0000d0" stroke-width="2.0" fill="none"/>
<circle cx="1444.1" cy="1267.8" r="7.0" fill="#ff8b1a"/>
<circle cx="1455.7" cy="1246.6" r="7.0" fill="#ff8b1a"/>
<circle cx="1455.7" cy="1262" r="7.0" fill="#ff8b1a"/>
<circle cx="1456.9" cy="1293.2" r="7.0" fill="#ff8b1a"/>
<circle cx="1668" cy="1241.9" r="7.0" fill="#ff8b1a"/>
<circle cx="1668" cy="1264.7" r="7.0" fill="#ff8b1a"/>
<circle cx="1665.7" cy="1279.2" r="7.0" fill="#ff8b1a"/>
<circle cx="1668" cy="1282.5" r="7.0" fill="#ff8b1a"/>
<circle cx="1668" cy="1292.3" r="7.0" fill="#ff8b1a"/>
<circle cx="1870.6" cy="1324.7" r="7.0" fill="#ff8b1a"/>
<circle cx="1870.6" cy="1339.9" r="7.0" fill="#ff8b1a"/>
<circle cx="1870.6" cy="1359.1" r="7.0" fill="#ff8b1a"/>
<circle cx="1870.6" cy="1364.6" r="7.0" fill="#ff8b1a"/>
<circle cx="1253" cy="1196.7" r="7.0" fill="#008012"/>
<circle cx="1253" cy="1237.1" r="7.0" fill="#008012"/>
<circle cx="1253" cy="1267.8" r="7.0" fill="#008012"/>
<circle cx="1253" cy="1282.7" r="7.0" fill="#008012"/>
<circle cx="1253" cy="1287.3" r="7.0" fill="#008012"/>
<circle cx="1719.6" cy="1313.7" r="7.0" fill="#008012"/>
<circle cx="1866.5" cy="1330.2" r="7.0" fill="#008012"/>
<circle cx="1866.5" cy="1330" r="7.0" fill="#008012"/>
<circle cx="1926.3" cy="1354.3" r="7.0" fill="#008012"/>
<circle cx="1928.7" cy="1361.9" r="7.0" fill="#008012"/>
<circle cx="1926.3" cy="1374.6" r="7.0" fill="#008012"/>
<circle cx="1926.3" cy="1384.5" r="7.0" fill="#008012"/>
<circle cx="1929.3" cy="1390.7" r="7.0" fill="#008012"/>
<circle cx="1928.7" cy="1396.2" r="7.0" fill="#008012"/>
<circle cx="1444.1" cy="1191.3" r="7.0" fill="#05c8ff"/>
<circle cx="1444.1" cy="1267.8" r="7.0" fill="#05c8ff"/>
<circle cx="1456.3" cy="1252.5" r="7.0" fill="#05c8ff"/>
<circle cx="1253" cy="1135.9" r="7.0" fill="#0000d0"/>
<circle cx="1253" cy="1151.1" r="7.0" fill="#0000d0"/>
<circle cx="1253" cy="1212" r="7.0" fill="#0000d0"/>
<circle cx="1665.4" cy="1232.1" r="7.0" fill="#0000d0"/>
<circle cx="1665.4" cy="1235.4" r="7.0" fill="#0000d0"/>
<circle cx="1720" cy="1248.4" r="7.0" fill="#0000d0"/>
<circle cx="1866.5" cy="1333.7" r="7.0" fill="#0000d0"/>
<circle cx="1866.5" cy="1369.1" r="7.0" fill="#0000d0"/>
<circle cx="1924" cy="1366.3" r="7.0" fill="#0000d0"/>
<circle cx="1924.9" cy="1394.5" r="7.0" fill="#0000d0"/>
<circle cx="1455.7" cy="1181.3" r="7.0" fill="#dc0504"/>
<circle cx="1456.9" cy="1211.9" r="7.0" fill="#dc0504"/>
<circle cx="1665.4" cy="1209.7" r="7.0" fill="#dc0504"/>
<circle cx="1665.4" cy="1221.8" r="7.0" fill="#dc0504"/>
</g>
<clipPath id="clipe"><rect x="172.2" y="1517.5" width="820.4" height="607.6"/></clipPath>
<g clip-path="url(#clipe)">
<path d="M227.4 1846.7V1952.5M221.4 1846.7H233.4M221.4 1952.5H233.4" stroke="#ff8b1a" stroke-width="2.0" fill="none"/>
<path d="M228.4 1882.1V2025.4M222.4 1882.1H234.4M222.4 2025.4H234.4" stroke="#ff8b1a" stroke-width="2.0" fill="none"/>
<path d="M397.9 1800.3V1921.6M391.9 1800.3H403.9M391.9 1921.6H403.9" stroke="#ff8b1a" stroke-width="2.0" fill="none"/>
<path d="M634.3 1799.2V1913.5M628.3 1799.2H640.3M628.3 1913.5H640.3" stroke="#ff8b1a" stroke-width="2.0" fill="none"/>
<path d="M806 1910V1999.3M800 1910H812M800 1999.3H812" stroke="#ff8b1a" stroke-width="2.0" fill="none"/>
<path d="M228.8 1900V2028.8M222.8 1900H234.8M222.8 2028.8H234.8" stroke="#008012" stroke-width="2.0" fill="none"/>
<path d="M228.8 1968V2017.8M222.8 1968H234.8M222.8 2017.8H234.8" stroke="#008012" stroke-width="2.0" fill="none"/>
<path d="M399.3 1887.3V1980M393.3 1887.3H405.3M393.3 1980H405.3" stroke="#008012" stroke-width="2.0" fill="none"/>
<path d="M398.6 1965V2043M392.6 1965H404.6M392.6 2043H404.6" stroke="#008012" stroke-width="2.0" fill="none"/>
<path d="M398.1 2018.5V2087.7M392.1 2018.5H404.1M392.1 2087.7H404.1" stroke="#008012" stroke-width="2.0" fill="none"/>
<path d="M636 1890.6V1993.7M630 1890.6H642M630 1993.7H642" stroke="#008012" stroke-width="2.0" fill="none"/>
<path d="M636 1892.6V1997.1M630 1892.6H642M630 1997.1H642" stroke="#008012" stroke-width="2.0" fill="none"/>
<path d="M806 1826.7V1933M800 1826.7H812M800 1933H812" stroke="#008012" stroke-width="2.0" fill="none"/>
<path d="M806 1845.3V1969M800 1845.3H812M800 1969H812" stroke="#008012" stroke-width="2.0" fill="none"/>
<path d="M209.3 1556.9V1785.5M203.3 1556.9H215.3M203.3 1785.5H215.3" stroke="#0000d0" stroke-width="2.0" fill="none"/>
<path d="M221.6 1531.5V1724.6M215.6 1531.5H227.6M215.6 1724.6H227.6" stroke="#0000d0" stroke-width="2.0" fill="none"/>
<path d="M221 1480V1778.2M215 1480H227M215 1778.2H227" stroke="#0000d0" stroke-width="2.0" fill="none"/>
<path d="M221.6 1645.9V1824.7M215.6 1645.9H227.6M215.6 1824.7H227.6" stroke="#0000d0" stroke-width="2.0" fill="none"/>
<path d="M448.3 1571.7V1706M442.3 1571.7H454.3M442.3 1706H454.3" stroke="#0000d0" stroke-width="2.0" fill="none"/>
<path d="M447.7 1642.8V1778.8M441.7 1642.8H453.7M441.7 1778.8H453.7" stroke="#0000d0" stroke-width="2.0" fill="none"/>
<path d="M446 1849.8V1985.8M440 1849.8H452M440 1985.8H452" stroke="#0000d0" stroke-width="2.0" fill="none"/>
<path d="M652.3 1653.5V1853.5M646.3 1653.5H658.3M646.3 1853.5H658.3" stroke="#0000d0" stroke-width="2.0" fill="none"/>
<path d="M202.7 1910.6V2004M196.7 1910.6H208.7M196.7 2004H208.7" stroke="#dc0504" stroke-width="2.0" fill="none"/>
<path d="M202.3 1928.9V2021.2M196.3 1928.9H208.3M196.3 2021.2H208.3" stroke="#dc0504" stroke-width="2.0" fill="none"/>
<path d="M391.3 1741.2V1848.8M385.3 1741.2H397.3M385.3 1848.8H397.3" stroke="#dc0504" stroke-width="2.0" fill="none"/>
<path d="M389.9 1774.7V1882.2M383.9 1774.7H395.9M383.9 1882.2H395.9" stroke="#dc0504" stroke-width="2.0" fill="none"/>
<path d="M388.6 1803.3V1895.5M382.6 1803.3H394.6M382.6 1895.5H394.6" stroke="#dc0504" stroke-width="2.0" fill="none"/>
<path d="M387.9 1857V2035.7M381.9 1857H393.9M381.9 2035.7H393.9" stroke="#dc0504" stroke-width="2.0" fill="none"/>
<path d="M617.2 1792.3V1884.1M611.2 1792.3H623.2M611.2 1884.1H623.2" stroke="#dc0504" stroke-width="2.0" fill="none"/>
<path d="M617.2 1851.8V1935.3M611.2 1851.8H623.2M611.2 1935.3H623.2" stroke="#dc0504" stroke-width="2.0" fill="none"/>
<path d="M618.5 1856.2V1960M612.5 1856.2H624.5M612.5 1960H624.5" stroke="#dc0504" stroke-width="2.0" fill="none"/>
<path d="M616.4 1860.8V1969.9M610.4 1860.8H622.4M610.4 1969.9H622.4" stroke="#dc0504" stroke-width="2.0" fill="none"/>
<path d="M803.7 1770.7V1866.9M797.7 1770.7H809.7M797.7 1866.9H809.7" stroke="#dc0504" stroke-width="2.0" fill="none"/>
<path d="M797.2 1834.3V1975.2M791.2 1834.3H803.2M791.2 1975.2H803.2" stroke="#dc0504" stroke-width="2.0" fill="none"/>
<path d="M398.6 1943V2021.3M392.6 1943H404.6M392.6 2021.3H404.6" stroke="#008012" stroke-width="2.0" fill="none"/>
<path d="M398.6 1957.4V2018.6M392.6 1957.4H404.6M392.6 2018.6H404.6" stroke="#008012" stroke-width="2.0" fill="none"/>
<path d="M398.6 1963.6V2032M392.6 1963.6H404.6M392.6 2032H404.6" stroke="#008012" stroke-width="2.0" fill="none"/>
<path d="M398.4 1971.1V2091.9M392.4 1971.1H404.4M392.4 2091.9H404.4" stroke="#008012" stroke-width="2.0" fill="none"/>
<path d="M806.1 1833.9V1952.2M800.1 1833.9H812.1M800.1 1952.2H812.1" stroke="#008012" stroke-width="2.0" fill="none"/>
<path d="M806.1 1852.2V1986.9M800.1 1852.2H812.1M800.1 1986.9H812.1" stroke="#008012" stroke-width="2.0" fill="none"/>
<path d="M806.1 1880V1994.4M800.1 1880H812.1M800.1 1994.4H812.1" stroke="#008012" stroke-width="2.0" fill="none"/>
<path d="M806.1 1890V2028.8M800.1 1890H812.1M800.1 2028.8H812.1" stroke="#008012" stroke-width="2.0" fill="none"/>
<path d="M806.1 1920V2010M800.1 1920H812.1M800.1 2010H812.1" stroke="#008012" stroke-width="2.0" fill="none"/>
<path d="M806.1 1986.9V2050.1M800.1 1986.9H812.1M800.1 2050.1H812.1" stroke="#008012" stroke-width="2.0" fill="none"/>
<circle cx="227.4" cy="1899.6" r="6.2" fill="#fff" stroke="#ff8b1a" stroke-width="1.9"/>
<circle cx="228.4" cy="1952.5" r="6.2" fill="#fff" stroke="#ff8b1a" stroke-width="1.9"/>
<circle cx="397.9" cy="1861.2" r="6.2" fill="#fff" stroke="#ff8b1a" stroke-width="1.9"/>
<circle cx="634.3" cy="1856" r="6.2" fill="#fff" stroke="#ff8b1a" stroke-width="1.9"/>
<circle cx="806" cy="1955.3" r="6.2" fill="#fff" stroke="#ff8b1a" stroke-width="1.9"/>
<circle cx="228.8" cy="1960.8" r="6.2" fill="#fff" stroke="#008012" stroke-width="1.9"/>
<circle cx="228.8" cy="1993" r="6.2" fill="#fff" stroke="#008012" stroke-width="1.9"/>
<circle cx="399.3" cy="1934" r="6.2" fill="#fff" stroke="#008012" stroke-width="1.9"/>
<circle cx="398.6" cy="2005" r="6.2" fill="#fff" stroke="#008012" stroke-width="1.9"/>
<circle cx="398.1" cy="2048.5" r="6.2" fill="#fff" stroke="#008012" stroke-width="1.9"/>
<circle cx="636" cy="1942.8" r="6.2" fill="#fff" stroke="#008012" stroke-width="1.9"/>
<circle cx="636" cy="1942.8" r="6.2" fill="#fff" stroke="#008012" stroke-width="1.9"/>
<circle cx="806" cy="1879.7" r="6.2" fill="#fff" stroke="#008012" stroke-width="1.9"/>
<circle cx="806" cy="1907" r="6.2" fill="#fff" stroke="#008012" stroke-width="1.9"/>
<circle cx="209.3" cy="1671" r="6.2" fill="#fff" stroke="#0000d0" stroke-width="1.9"/>
<circle cx="221.6" cy="1628.1" r="6.2" fill="#fff" stroke="#0000d0" stroke-width="1.9"/>
<circle cx="221" cy="1636" r="6.2" fill="#fff" stroke="#0000d0" stroke-width="1.9"/>
<circle cx="221.6" cy="1735.6" r="6.2" fill="#fff" stroke="#0000d0" stroke-width="1.9"/>
<circle cx="448.3" cy="1639" r="6.2" fill="#fff" stroke="#0000d0" stroke-width="1.9"/>
<circle cx="447.7" cy="1710.2" r="6.2" fill="#fff" stroke="#0000d0" stroke-width="1.9"/>
<circle cx="446" cy="1917.8" r="6.2" fill="#fff" stroke="#0000d0" stroke-width="1.9"/>
<circle cx="652.3" cy="1753.5" r="6.2" fill="#fff" stroke="#0000d0" stroke-width="1.9"/>
<rect x="391.6" y="1975.3" width="14.0" height="14.0" fill="#fff" stroke="#008012" stroke-width="1.8"/>
<rect x="391.6" y="1980" width="14.0" height="14.0" fill="#fff" stroke="#008012" stroke-width="1.8"/>
<rect x="391.6" y="1990.8" width="14.0" height="14.0" fill="#fff" stroke="#008012" stroke-width="1.8"/>
<rect x="391.4" y="2024.8" width="14.0" height="14.0" fill="#fff" stroke="#008012" stroke-width="1.8"/>
<rect x="799.1" y="1885.8" width="14.0" height="14.0" fill="#fff" stroke="#008012" stroke-width="1.8"/>
<rect x="799.1" y="1913.3" width="14.0" height="14.0" fill="#fff" stroke="#008012" stroke-width="1.8"/>
<rect x="799.1" y="1927.1" width="14.0" height="14.0" fill="#fff" stroke="#008012" stroke-width="1.8"/>
<rect x="799.1" y="1937" width="14.0" height="14.0" fill="#fff" stroke="#008012" stroke-width="1.8"/>
<rect x="799.1" y="1959.4" width="14.0" height="14.0" fill="#fff" stroke="#008012" stroke-width="1.8"/>
<rect x="799.1" y="2003.4" width="14.0" height="14.0" fill="#fff" stroke="#008012" stroke-width="1.8"/>
<circle cx="202.7" cy="1957.3" r="6.2" fill="#fff" stroke="#dc0504" stroke-width="1.9"/>
<circle cx="202.3" cy="1974.5" r="6.2" fill="#fff" stroke="#dc0504" stroke-width="1.9"/>
<circle cx="391.3" cy="1795" r="6.2" fill="#fff" stroke="#dc0504" stroke-width="1.9"/>
<circle cx="389.9" cy="1828.3" r="6.2" fill="#fff" stroke="#dc0504" stroke-width="1.9"/>
<circle cx="388.6" cy="1848.8" r="6.2" fill="#fff" stroke="#dc0504" stroke-width="1.9"/>
<circle cx="387.9" cy="1946.4" r="6.2" fill="#fff" stroke="#dc0504" stroke-width="1.9"/>
<circle cx="617.2" cy="1838.1" r="6.2" fill="#fff" stroke="#dc0504" stroke-width="1.9"/>
<circle cx="617.2" cy="1893.3" r="6.2" fill="#fff" stroke="#dc0504" stroke-width="1.9"/>
<circle cx="618.5" cy="1908.5" r="6.2" fill="#fff" stroke="#dc0504" stroke-width="1.9"/>
<circle cx="616.4" cy="1915.3" r="6.2" fill="#fff" stroke="#dc0504" stroke-width="1.9"/>
<circle cx="803.7" cy="1818.5" r="6.2" fill="#fff" stroke="#dc0504" stroke-width="1.9"/>
<circle cx="797.2" cy="1904.8" r="6.2" fill="#fff" stroke="#dc0504" stroke-width="1.9"/>
</g>
<clipPath id="clipf"><rect x="1177.8" y="1520.1" width="820.2" height="608.4"/></clipPath>
<g clip-path="url(#clipf)">
<path d="M1249.9 1880V1942.1M1243.9 1880H1255.9M1243.9 1942.1H1255.9" stroke="#008012" stroke-width="2.0" fill="none"/>
<path d="M1249.9 1925V2024.7M1243.9 1925H1255.9M1243.9 2024.7H1255.9" stroke="#008012" stroke-width="2.0" fill="none"/>
<path d="M1249.9 1940V2035.7M1243.9 1940H1255.9M1243.9 2035.7H1255.9" stroke="#008012" stroke-width="2.0" fill="none"/>
<path d="M1249.9 1950V2042.6M1243.9 1950H1255.9M1243.9 2042.6H1255.9" stroke="#008012" stroke-width="2.0" fill="none"/>
<path d="M1710 1828.1V1933.8M1704 1828.1H1716M1704 1933.8H1716" stroke="#008012" stroke-width="2.0" fill="none"/>
<path d="M1722 1824.1V1936.8M1716 1824.1H1728M1716 1936.8H1728" stroke="#008012" stroke-width="2.0" fill="none"/>
<path d="M1862.8 1785V1925M1856.8 1785H1868.8M1856.8 1925H1868.8" stroke="#008012" stroke-width="2.0" fill="none"/>
<path d="M1862.1 1805V1922.2M1856.1 1805H1868.1M1856.1 1922.2H1868.1" stroke="#008012" stroke-width="2.0" fill="none"/>
<path d="M1919.5 1819.1V1975.3M1913.5 1819.1H1925.5M1913.5 1975.3H1925.5" stroke="#008012" stroke-width="2.0" fill="none"/>
<path d="M1926.9 1835.3V1959.8M1920.9 1835.3H1932.9M1920.9 1959.8H1932.9" stroke="#008012" stroke-width="2.0" fill="none"/>
<path d="M1925.1 1869.2V1965M1919.1 1869.2H1931.1M1919.1 1965H1931.1" stroke="#008012" stroke-width="2.0" fill="none"/>
<path d="M1925.1 1910V1997M1919.1 1910H1931.1M1919.1 1997H1931.1" stroke="#008012" stroke-width="2.0" fill="none"/>
<path d="M1919.5 1910V2010.6M1913.5 1910H1925.5M1913.5 2010.6H1925.5" stroke="#008012" stroke-width="2.0" fill="none"/>
<path d="M1919.5 1943.6V2021.6M1913.5 1943.6H1925.5M1913.5 2021.6H1925.5" stroke="#008012" stroke-width="2.0" fill="none"/>
<path d="M1925.7 1960V2056.3M1919.7 1960H1931.7M1919.7 2056.3H1931.7" stroke="#008012" stroke-width="2.0" fill="none"/>
<path d="M1924.7 1975V2072.5M1918.7 1975H1930.7M1918.7 2072.5H1930.7" stroke="#008012" stroke-width="2.0" fill="none"/>
<path d="M1452.7 1770.9V1848M1446.7 1770.9H1458.7M1446.7 1848H1458.7" stroke="#dc0504" stroke-width="2.0" fill="none"/>
<path d="M1453.1 1803V1888M1447.1 1803H1459.1M1447.1 1888H1459.1" stroke="#dc0504" stroke-width="2.0" fill="none"/>
<path d="M1662.1 1643V1768M1656.1 1643H1668.1M1656.1 1768H1668.1" stroke="#dc0504" stroke-width="2.0" fill="none"/>
<path d="M1662.1 1649.6V1807M1656.1 1649.6H1668.1M1656.1 1807H1668.1" stroke="#dc0504" stroke-width="2.0" fill="none"/>
<path d="M1440.6 1885.1V1957.2M1434.6 1885.1H1446.6M1434.6 1957.2H1446.6" stroke="#ff8b1a" stroke-width="2.0" fill="none"/>
<path d="M1452.7 1852.7V1930M1446.7 1852.7H1458.7M1446.7 1930H1458.7" stroke="#ff8b1a" stroke-width="2.0" fill="none"/>
<path d="M1452.7 1878V1935.6M1446.7 1878H1458.7M1446.7 1935.6H1458.7" stroke="#ff8b1a" stroke-width="2.0" fill="none"/>
<path d="M1453.6 1905.6V1992.6M1447.6 1905.6H1459.6M1447.6 1992.6H1459.6" stroke="#ff8b1a" stroke-width="2.0" fill="none"/>
<path d="M1664.3 1737.9V1799M1658.3 1737.9H1670.3M1658.3 1799H1670.3" stroke="#ff8b1a" stroke-width="2.0" fill="none"/>
<path d="M1664.7 1776.7V1875.6M1658.7 1776.7H1670.7M1658.7 1875.6H1670.7" stroke="#ff8b1a" stroke-width="2.0" fill="none"/>
<path d="M1662.8 1786.5V1887.1M1656.8 1786.5H1668.8M1656.8 1887.1H1668.8" stroke="#ff8b1a" stroke-width="2.0" fill="none"/>
<path d="M1664.7 1806V1899.2M1658.7 1806H1670.7M1658.7 1899.2H1670.7" stroke="#ff8b1a" stroke-width="2.0" fill="none"/>
<path d="M1664.3 1800V1916.9M1658.3 1800H1670.3M1658.3 1916.9H1670.3" stroke="#ff8b1a" stroke-width="2.0" fill="none"/>
<path d="M1664.3 1694.2V1826M1658.3 1694.2H1670.3M1658.3 1826H1670.3" stroke="#ff8b1a" stroke-width="2.0" fill="none"/>
<path d="M1867 1789V1884.7M1861 1789H1873M1861 1884.7H1873" stroke="#ff8b1a" stroke-width="2.0" fill="none"/>
<path d="M1867 1821.8V1926M1861 1821.8H1873M1861 1926H1873" stroke="#ff8b1a" stroke-width="2.0" fill="none"/>
<path d="M1867 1890.6V1973.8M1861 1890.6H1873M1861 1973.8H1873" stroke="#ff8b1a" stroke-width="2.0" fill="none"/>
<path d="M1867 1897.2V1987.8M1861 1897.2H1873M1861 1987.8H1873" stroke="#ff8b1a" stroke-width="2.0" fill="none"/>
<path d="M1440.6 1816.9V1916M1434.6 1816.9H1446.6M1434.6 1916H1446.6" stroke="#05c8ff" stroke-width="2.0" fill="none"/>
<path d="M1440.9 1889V1953.3M1434.9 1889H1446.9M1434.9 1953.3H1446.9" stroke="#05c8ff" stroke-width="2.0" fill="none"/>
<path d="M1453.1 1868.4V1932.6M1447.1 1868.4H1459.1M1447.1 1932.6H1459.1" stroke="#05c8ff" stroke-width="2.0" fill="none"/>
<path d="M1249.9 1792.3V1921M1243.9 1792.3H1255.9M1243.9 1921H1255.9" stroke="#0000d0" stroke-width="2.0" fill="none"/>
<path d="M1249.9 1795.7V1945.9M1243.9 1795.7H1255.9M1243.9 1945.9H1255.9" stroke="#0000d0" stroke-width="2.0" fill="none"/>
<path d="M1249.9 1902V1949.7M1243.9 1902H1255.9M1243.9 1949.7H1255.9" stroke="#0000d0" stroke-width="2.0" fill="none"/>
<path d="M1662.1 1645.6V1816M1656.1 1645.6H1668.1M1656.1 1816H1668.1" stroke="#0000d0" stroke-width="2.0" fill="none"/>
<path d="M1662.1 1690.8V1803.5M1656.1 1690.8H1668.1M1656.1 1803.5H1668.1" stroke="#0000d0" stroke-width="2.0" fill="none"/>
<path d="M1662.1 1695.7V1820M1656.1 1695.7H1668.1M1656.1 1820H1668.1" stroke="#0000d0" stroke-width="2.0" fill="none"/>
<path d="M1716.6 1670.6V1821.1M1710.6 1670.6H1722.6M1710.6 1821.1H1722.6" stroke="#0000d0" stroke-width="2.0" fill="none"/>
<path d="M1862.8 1800.7V1936.7M1856.8 1800.7H1868.8M1856.8 1936.7H1868.8" stroke="#0000d0" stroke-width="2.0" fill="none"/>
<path d="M1862.8 1915.6V1995.1M1856.8 1915.6H1868.8M1856.8 1995.1H1868.8" stroke="#0000d0" stroke-width="2.0" fill="none"/>
<path d="M1920.7 1868.5V1997.3M1914.7 1868.5H1926.7M1914.7 1997.3H1926.7" stroke="#0000d0" stroke-width="2.0" fill="none"/>
<path d="M1921 1975V2047.4M1915 1975H1927M1915 2047.4H1927" stroke="#0000d0" stroke-width="2.0" fill="none"/>
<circle cx="1440.6" cy="1921" r="7.0" fill="#ff8b1a"/>
<circle cx="1452.7" cy="1891.7" r="7.0" fill="#ff8b1a"/>
<circle cx="1452.7" cy="1907.2" r="7.0" fill="#ff8b1a"/>
<circle cx="1453.6" cy="1949.1" r="7.0" fill="#ff8b1a"/>
<circle cx="1664.3" cy="1764.9" r="7.0" fill="#ff8b1a"/>
<circle cx="1664.7" cy="1806.4" r="7.0" fill="#ff8b1a"/>
<circle cx="1662.8" cy="1837.3" r="7.0" fill="#ff8b1a"/>
<circle cx="1664.7" cy="1858.7" r="7.0" fill="#ff8b1a"/>
<circle cx="1664.3" cy="1858" r="7.0" fill="#ff8b1a"/>
<circle cx="1664.3" cy="1760" r="7.0" fill="#ff8b1a"/>
<circle cx="1867" cy="1839.5" r="7.0" fill="#ff8b1a"/>
<circle cx="1867" cy="1877.3" r="7.0" fill="#ff8b1a"/>
<circle cx="1867" cy="1928.6" r="7.0" fill="#ff8b1a"/>
<circle cx="1867" cy="1941.8" r="7.0" fill="#ff8b1a"/>
<circle cx="1249.9" cy="1913.5" r="7.0" fill="#008012"/>
<circle cx="1249.9" cy="1974.5" r="7.0" fill="#008012"/>
<circle cx="1249.9" cy="1988.1" r="7.0" fill="#008012"/>
<circle cx="1249.9" cy="1996" r="7.0" fill="#008012"/>
<circle cx="1710" cy="1880.1" r="7.0" fill="#008012"/>
<circle cx="1722" cy="1880.1" r="7.0" fill="#008012"/>
<circle cx="1862.8" cy="1855.2" r="7.0" fill="#008012"/>
<circle cx="1862.1" cy="1862.6" r="7.0" fill="#008012"/>
<circle cx="1919.5" cy="1896.5" r="7.0" fill="#008012"/>
<circle cx="1926.9" cy="1896.9" r="7.0" fill="#008012"/>
<circle cx="1925.1" cy="1921.9" r="7.0" fill="#008012"/>
<circle cx="1925.1" cy="1954.3" r="7.0" fill="#008012"/>
<circle cx="1919.5" cy="1957.3" r="7.0" fill="#008012"/>
<circle cx="1919.5" cy="1977.5" r="7.0" fill="#008012"/>
<circle cx="1925.7" cy="1998.8" r="7.0" fill="#008012"/>
<circle cx="1924.7" cy="2018" r="7.0" fill="#008012"/>
<circle cx="1440.6" cy="1866.7" r="7.0" fill="#05c8ff"/>
<circle cx="1440.9" cy="1920.9" r="7.0" fill="#05c8ff"/>
<circle cx="1453.1" cy="1899.8" r="7.0" fill="#05c8ff"/>
<circle cx="1249.9" cy="1856.7" r="7.0" fill="#0000d0"/>
<circle cx="1249.9" cy="1870.8" r="7.0" fill="#0000d0"/>
<circle cx="1249.9" cy="1924.2" r="7.0" fill="#0000d0"/>
<circle cx="1662.1" cy="1732" r="7.0" fill="#0000d0"/>
<circle cx="1662.1" cy="1746" r="7.0" fill="#0000d0"/>
<circle cx="1662.1" cy="1754.9" r="7.0" fill="#0000d0"/>
<circle cx="1716.6" cy="1745.3" r="7.0" fill="#0000d0"/>
<circle cx="1862.8" cy="1868.5" r="7.0" fill="#0000d0"/>
<circle cx="1862.8" cy="1954.9" r="7.0" fill="#0000d0"/>
<circle cx="1920.7" cy="1932.3" r="7.0" fill="#0000d0"/>
<circle cx="1921" cy="2011.3" r="7.0" fill="#0000d0"/>
<circle cx="1452.7" cy="1809.5" r="7.0" fill="#dc0504"/>
<circle cx="1453.1" cy="1845.3" r="7.0" fill="#dc0504"/>
<circle cx="1662.1" cy="1705.5" r="7.0" fill="#dc0504"/>
<circle cx="1662.1" cy="1728.4" r="7.0" fill="#dc0504"/>
</g>
<path d="M164.6 751.9V737.4M164.6 143.9V158.4M267.19 751.9V737.4M267.19 143.9V158.4M369.77 751.9V737.4M369.77 143.9V158.4M472.36 751.9V737.4M472.36 143.9V158.4M574.95 751.9V737.4M574.95 143.9V158.4M677.54 751.9V737.4M677.54 143.9V158.4M780.12 751.9V737.4M780.12 143.9V158.4M882.71 751.9V737.4M882.71 143.9V158.4M985.3 751.9V737.4M985.3 143.9V158.4M164.6 751.9H179.1M985.3 751.9H970.8M164.6 549.23H179.1M985.3 549.23H970.8M164.6 346.57H179.1M985.3 346.57H970.8M164.6 143.9H179.1M985.3 143.9H970.8" stroke="#000" stroke-width="1.9" fill="none"/>
<rect x="164.6" y="143.9" width="820.7" height="608" stroke="#000" stroke-width="2.1" fill="none"/>
<g font-size="33" fill="#000"><text x="164.6" y="794.8" text-anchor="middle">6</text><text x="267.19" y="794.8" text-anchor="middle">12</text><text x="369.77" y="794.8" text-anchor="middle">6</text><text x="472.36" y="794.8" text-anchor="middle">12</text><text x="574.95" y="794.8" text-anchor="middle">6</text><text x="677.54" y="794.8" text-anchor="middle">12</text><text x="780.12" y="794.8" text-anchor="middle">6</text><text x="882.71" y="794.8" text-anchor="middle">12</text><text x="985.3" y="794.8" text-anchor="middle">6</text><text x="143.6" y="761.2" text-anchor="end">0.5</text><text x="143.6" y="558.53" text-anchor="end">1</text><text x="143.6" y="355.87" text-anchor="end">1.5</text><text x="143.6" y="153.2" text-anchor="end">2</text></g>
<path d="M1179.3 750.9V736.4M1179.3 142.4V156.9M1281.89 750.9V736.4M1281.89 142.4V156.9M1384.47 750.9V736.4M1384.47 142.4V156.9M1487.06 750.9V736.4M1487.06 142.4V156.9M1589.65 750.9V736.4M1589.65 142.4V156.9M1692.24 750.9V736.4M1692.24 142.4V156.9M1794.83 750.9V736.4M1794.83 142.4V156.9M1897.41 750.9V736.4M1897.41 142.4V156.9M2000 750.9V736.4M2000 142.4V156.9M1179.3 750.9H1193.8M2000 750.9H1985.5M1179.3 548.07H1193.8M2000 548.07H1985.5M1179.3 345.23H1193.8M2000 345.23H1985.5M1179.3 142.4H1193.8M2000 142.4H1985.5" stroke="#000" stroke-width="1.9" fill="none"/>
<rect x="1179.3" y="142.4" width="820.7" height="608.5" stroke="#000" stroke-width="2.1" fill="none"/>
<g font-size="33" fill="#000"><text x="1179.3" y="793.8" text-anchor="middle">6</text><text x="1281.89" y="793.8" text-anchor="middle">12</text><text x="1384.47" y="793.8" text-anchor="middle">6</text><text x="1487.06" y="793.8" text-anchor="middle">12</text><text x="1589.65" y="793.8" text-anchor="middle">6</text><text x="1692.24" y="793.8" text-anchor="middle">12</text><text x="1794.83" y="793.8" text-anchor="middle">6</text><text x="1897.41" y="793.8" text-anchor="middle">12</text><text x="2000" y="793.8" text-anchor="middle">6</text><text x="1158.3" y="760.2" text-anchor="end">0.5</text><text x="1158.3" y="557.37" text-anchor="end">1</text><text x="1158.3" y="354.53" text-anchor="end">1.5</text><text x="1158.3" y="151.7" text-anchor="end">2</text></g>
<path d="M171.9 1435.6V1421.1M171.9 826.7V841.2M274.36 1435.6V1421.1M274.36 826.7V841.2M376.83 1435.6V1421.1M376.83 826.7V841.2M479.29 1435.6V1421.1M479.29 826.7V841.2M581.75 1435.6V1421.1M581.75 826.7V841.2M684.21 1435.6V1421.1M684.21 826.7V841.2M786.68 1435.6V1421.1M786.68 826.7V841.2M889.14 1435.6V1421.1M889.14 826.7V841.2M991.6 1435.6V1421.1M991.6 826.7V841.2M171.9 1435.6H186.4M991.6 1435.6H977.1M171.9 1334.12H186.4M991.6 1334.12H977.1M171.9 1232.63H186.4M991.6 1232.63H977.1M171.9 1131.15H186.4M991.6 1131.15H977.1M171.9 1029.67H186.4M991.6 1029.67H977.1M171.9 928.18H186.4M991.6 928.18H977.1M171.9 826.7H186.4M991.6 826.7H977.1" stroke="#000" stroke-width="1.9" fill="none"/>
<rect x="171.9" y="826.7" width="819.7" height="608.9" stroke="#000" stroke-width="2.1" fill="none"/>
<g font-size="33" fill="#000"><text x="171.9" y="1478.5" text-anchor="middle">6</text><text x="274.36" y="1478.5" text-anchor="middle">12</text><text x="376.83" y="1478.5" text-anchor="middle">6</text><text x="479.29" y="1478.5" text-anchor="middle">12</text><text x="581.75" y="1478.5" text-anchor="middle">6</text><text x="684.21" y="1478.5" text-anchor="middle">12</text><text x="786.68" y="1478.5" text-anchor="middle">6</text><text x="889.14" y="1478.5" text-anchor="middle">12</text><text x="991.6" y="1478.5" text-anchor="middle">6</text><text x="150.9" y="1444.9" text-anchor="end">0</text><text x="150.9" y="1343.42" text-anchor="end">0.02</text><text x="150.9" y="1241.93" text-anchor="end">0.04</text><text x="150.9" y="1140.45" text-anchor="end">0.06</text><text x="150.9" y="1038.97" text-anchor="end">0.08</text><text x="150.9" y="937.48" text-anchor="end">0.1</text><text x="150.9" y="836" text-anchor="end">0.12</text></g>
<path d="M1180.8 1435.6V1421.1M1180.8 826.9V841.4M1283.39 1435.6V1421.1M1283.39 826.9V841.4M1385.97 1435.6V1421.1M1385.97 826.9V841.4M1488.56 1435.6V1421.1M1488.56 826.9V841.4M1591.15 1435.6V1421.1M1591.15 826.9V841.4M1693.74 1435.6V1421.1M1693.74 826.9V841.4M1796.33 1435.6V1421.1M1796.33 826.9V841.4M1898.91 1435.6V1421.1M1898.91 826.9V841.4M2001.5 1435.6V1421.1M2001.5 826.9V841.4M1180.8 1435.6H1195.3M2001.5 1435.6H1987M1180.8 1334.15H1195.3M2001.5 1334.15H1987M1180.8 1232.7H1195.3M2001.5 1232.7H1987M1180.8 1131.25H1195.3M2001.5 1131.25H1987M1180.8 1029.8H1195.3M2001.5 1029.8H1987M1180.8 928.35H1195.3M2001.5 928.35H1987M1180.8 826.9H1195.3M2001.5 826.9H1987" stroke="#000" stroke-width="1.9" fill="none"/>
<rect x="1180.8" y="826.9" width="820.7" height="608.7" stroke="#000" stroke-width="2.1" fill="none"/>
<g font-size="33" fill="#000"><text x="1180.8" y="1478.5" text-anchor="middle">6</text><text x="1283.39" y="1478.5" text-anchor="middle">12</text><text x="1385.97" y="1478.5" text-anchor="middle">6</text><text x="1488.56" y="1478.5" text-anchor="middle">12</text><text x="1591.15" y="1478.5" text-anchor="middle">6</text><text x="1693.74" y="1478.5" text-anchor="middle">12</text><text x="1796.33" y="1478.5" text-anchor="middle">6</text><text x="1898.91" y="1478.5" text-anchor="middle">12</text><text x="2001.5" y="1478.5" text-anchor="middle">6</text><text x="1159.8" y="1444.9" text-anchor="end">0</text><text x="1159.8" y="1343.45" text-anchor="end">0.02</text><text x="1159.8" y="1242" text-anchor="end">0.04</text><text x="1159.8" y="1140.55" text-anchor="end">0.06</text><text x="1159.8" y="1039.1" text-anchor="end">0.08</text><text x="1159.8" y="937.65" text-anchor="end">0.1</text><text x="1159.8" y="836.2" text-anchor="end">0.12</text></g>
<path d="M172.2 2125.1V2110.6M172.2 1517.5V1532M274.75 2125.1V2110.6M274.75 1517.5V1532M377.3 2125.1V2110.6M377.3 1517.5V1532M479.85 2125.1V2110.6M479.85 1517.5V1532M582.4 2125.1V2110.6M582.4 1517.5V1532M684.95 2125.1V2110.6M684.95 1517.5V1532M787.5 2125.1V2110.6M787.5 1517.5V1532M890.05 2125.1V2110.6M890.05 1517.5V1532M992.6 2125.1V2110.6M992.6 1517.5V1532M172.2 2125.1H186.7M992.6 2125.1H978.1M172.2 1946.39H186.7M992.6 1946.39H978.1M172.2 1767.69H186.7M992.6 1767.69H978.1M172.2 1588.98H186.7M992.6 1588.98H978.1" stroke="#000" stroke-width="1.9" fill="none"/>
<rect x="172.2" y="1517.5" width="820.4" height="607.6" stroke="#000" stroke-width="2.1" fill="none"/>
<g font-size="33" fill="#000"><text x="172.2" y="2168" text-anchor="middle">6</text><text x="274.75" y="2168" text-anchor="middle">12</text><text x="377.3" y="2168" text-anchor="middle">6</text><text x="479.85" y="2168" text-anchor="middle">12</text><text x="582.4" y="2168" text-anchor="middle">6</text><text x="684.95" y="2168" text-anchor="middle">12</text><text x="787.5" y="2168" text-anchor="middle">6</text><text x="890.05" y="2168" text-anchor="middle">12</text><text x="992.6" y="2168" text-anchor="middle">6</text><text x="151.2" y="2134.4" text-anchor="end">0</text><text x="151.2" y="1955.69" text-anchor="end">0.5</text><text x="151.2" y="1776.99" text-anchor="end">1</text><text x="151.2" y="1598.28" text-anchor="end">1.5</text></g>
<path d="M1177.8 2128.5V2114M1177.8 1520.1V1534.6M1280.33 2128.5V2114M1280.33 1520.1V1534.6M1382.85 2128.5V2114M1382.85 1520.1V1534.6M1485.38 2128.5V2114M1485.38 1520.1V1534.6M1587.9 2128.5V2114M1587.9 1520.1V1534.6M1690.42 2128.5V2114M1690.42 1520.1V1534.6M1792.95 2128.5V2114M1792.95 1520.1V1534.6M1895.47 2128.5V2114M1895.47 1520.1V1534.6M1998 2128.5V2114M1998 1520.1V1534.6M1177.8 2128.5H1192.3M1998 2128.5H1983.5M1177.8 1949.56H1192.3M1998 1949.56H1983.5M1177.8 1770.62H1192.3M1998 1770.62H1983.5M1177.8 1591.68H1192.3M1998 1591.68H1983.5" stroke="#000" stroke-width="1.9" fill="none"/>
<rect x="1177.8" y="1520.1" width="820.2" height="608.4" stroke="#000" stroke-width="2.1" fill="none"/>
<g font-size="33" fill="#000"><text x="1177.8" y="2171.4" text-anchor="middle">6</text><text x="1280.33" y="2171.4" text-anchor="middle">12</text><text x="1382.85" y="2171.4" text-anchor="middle">6</text><text x="1485.38" y="2171.4" text-anchor="middle">12</text><text x="1587.9" y="2171.4" text-anchor="middle">6</text><text x="1690.42" y="2171.4" text-anchor="middle">12</text><text x="1792.95" y="2171.4" text-anchor="middle">6</text><text x="1895.47" y="2171.4" text-anchor="middle">12</text><text x="1998" y="2171.4" text-anchor="middle">6</text><text x="1156.8" y="2137.8" text-anchor="end">0</text><text x="1156.8" y="1958.86" text-anchor="end">0.5</text><text x="1156.8" y="1779.92" text-anchor="end">1</text><text x="1156.8" y="1600.98" text-anchor="end">1.5</text></g>
<g font-size="56" fill="#000"><text x="6.2" y="90.6">a</text><text x="1071.8" y="88.6">b</text><text x="9.8" y="822.6">c</text><text x="1072.4" y="801.8">d</text><text x="12" y="1518.4">e</text><text x="1080" y="1502.7">f</text></g>
<text transform="translate(37.8 695) rotate(-90)" font-size="36.5" fill="#000"><tspan font-size="25" dy="-16">137</tspan><tspan dy="16">Cs (mBq/L) on sampling date</tspan></text>
<text transform="translate(37.8 1369) rotate(-90)" font-size="36.5" fill="#000"><tspan font-size="25" dy="-16">134</tspan><tspan dy="16">Cs (mBq/L) on sampling date</tspan></text>
<text transform="translate(34.2 2075.5) rotate(-90)" font-size="36.5" fill="#000"><tspan font-size="25" dy="-16">134</tspan><tspan dy="16">Cs (mBq/L) on accident date</tspan></text>
<g font-size="38" fill="#000"><text x="135.7" y="2240.7">2018</text><text x="340.9" y="2240.2">2019</text><text x="553.7" y="2238">2020</text><text x="758.6" y="2241.4">2021</text><text x="948" y="2241.4">2022</text><text x="1063.7" y="2242.9">2018</text><text x="1268.6" y="2242.5">2019</text><text x="1481" y="2241">2020</text><text x="1686.6" y="2244.9">2021</text><text x="1876.3" y="2244.9">2022</text></g>
<text x="608.2" y="647.6" font-size="32.5" fill="#ff8b1a">SWC</text>
<text x="507.8" y="708.6" font-size="32.5" fill="#0000d0">EKC</text>
<rect x="579.9" y="7.7" width="406.4" height="112.9" fill="none" stroke="#000" stroke-width="1.5"/>
<circle cx="613.2" cy="32.3" r="5.6" fill="#fff" stroke="#ff8b1a" stroke-width="1.8"/>
<text x="659.8" y="43.4" font-size="30" fill="#ff8b1a">SWC</text>
<circle cx="613.2" cy="64.2" r="5.6" fill="#fff" stroke="#008012" stroke-width="1.8"/>
<text x="660.8" y="75" font-size="30" fill="#008012">ESC/OSW</text>
<rect x="606.8" y="90.2" width="13.4" height="13.4" fill="#fff" stroke="#008012" stroke-width="1.8"/>
<text x="660.8" y="106.6" font-size="30" fill="#008012">ICW</text>
<circle cx="843.5" cy="32.3" r="5.6" fill="#fff" stroke="#0000d0" stroke-width="1.8"/>
<text x="890.5" y="43.4" font-size="30" fill="#0000d0">EKC</text>
<circle cx="843.5" cy="64.2" r="5.6" fill="#fff" stroke="#dc0504" stroke-width="1.8"/>
<text x="890.5" y="75" font-size="30" fill="#dc0504">KWC</text>
<rect x="1439.1" y="6.7" width="555.7" height="118.8" fill="none" stroke="#000" stroke-width="1.5"/>
<circle cx="1495.6" cy="32.9" r="7.0" fill="#ff8b1a"/>
<text x="1543.2" y="44" font-size="30" fill="#ff8b1a">S</text>
<circle cx="1495.6" cy="64.9" r="7.0" fill="#008012"/>
<text x="1543.2" y="75.5" font-size="30" fill="#008012">E/O-S</text>
<circle cx="1495.6" cy="96.7" r="7.0" fill="#0000d0"/>
<text x="1543.2" y="107.4" font-size="30" fill="#0000d0">OY-E/O-S</text>
<circle cx="1691.7" cy="33" r="7.0" fill="#05c8ff"/>
<text x="1739" y="43.6" font-size="30" fill="#05c8ff">E/O-S or OY-E/O-S</text>
<circle cx="1691.7" cy="64.9" r="7.0" fill="#dc0504"/>
<text x="1739" y="75.3" font-size="30" fill="#dc0504">OY-KW</text>
</svg>
</body></html>
